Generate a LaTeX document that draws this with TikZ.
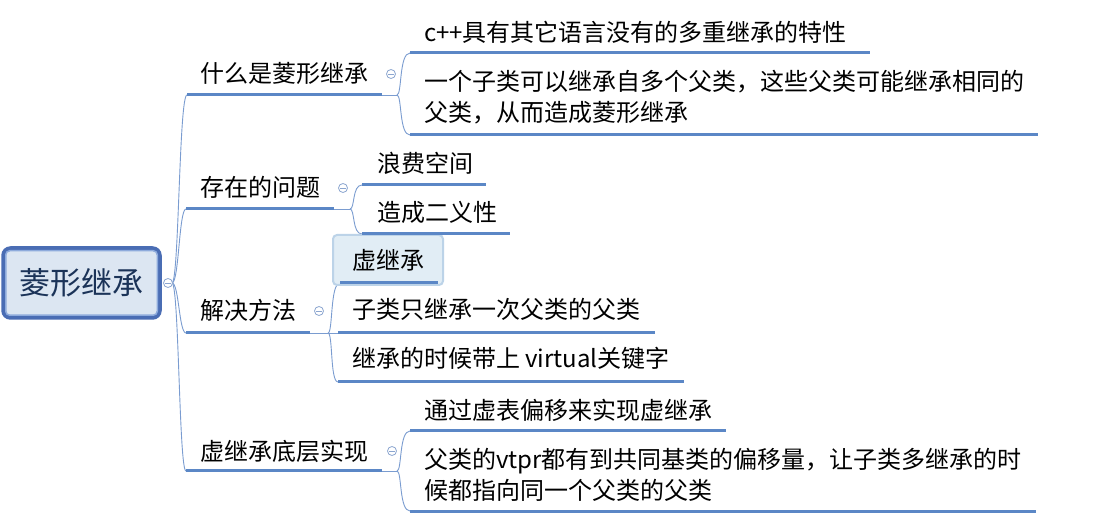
\documentclass[tikz,border=0pt]{standalone}
\usepackage{fontspec}
\setmainfont{Noto Sans CJK SC}
\definecolor{ulc}{HTML}{5B87C6}
\definecolor{cnc}{HTML}{7A9CD0}
\definecolor{clc}{HTML}{8CA6D0}
\definecolor{rootdark}{HTML}{4A6DB4}
\definecolor{rootlight}{HTML}{8EABDC}
\definecolor{rootfill}{HTML}{DCE6F2}
\definecolor{roottext}{HTML}{1B3358}
\definecolor{selfill}{HTML}{E1EDF5}
\definecolor{seldraw}{HTML}{BCD3E8}
\begin{document}
\begin{tikzpicture}[x=1pt,y=-1pt,
  ul/.style={draw=ulc,line width=3pt},
  cn/.style={draw=cnc,line width=0.9pt},
  txt/.style={anchor=base west,inner sep=0pt,outer sep=0pt,font=\fontsize{24}{31}\selectfont},
  fold/.style={circle,draw=clc,fill=white,line width=0.8pt,minimum size=9pt,inner sep=0pt,
    path picture={\draw[clc,line width=0.8pt] ([xshift=-2.6pt]path picture bounding box.center) -- ([xshift=2.6pt]path picture bounding box.center);}},
  rootbox/.style={draw=rootdark,line width=4.5pt,rounded corners=7pt,fill=rootfill,minimum width=156pt,minimum height=69pt,inner sep=0pt,text=roottext,font=\fontsize{31}{31}\selectfont},
  selbox/.style={draw=seldraw,line width=2pt,rounded corners=4pt,fill=selfill,minimum width=110pt,minimum height=50pt,inner sep=0pt,font=\fontsize{24}{31}\selectfont},
]
\fill[white] (0,0) rectangle (1101,526);
\useasboundingbox (0,0) rectangle (1101,526);

% ---- coordinates
\coordinate (rj) at (172,283);
\coordinate (t1s) at (187,95);  \coordinate (t1e) at (382,95);  \coordinate (t1j) at (397,95);
\coordinate (t2s) at (186,209); \coordinate (t2e) at (334,209); \coordinate (t2j) at (350,209);
\coordinate (t3s) at (186,333); \coordinate (t3e) at (310,333); \coordinate (t3j) at (328,333);
\coordinate (t4s) at (186,471); \coordinate (t4e) at (382,471); \coordinate (t4j) at (397,471);
\coordinate (c11s) at (410,53);  \coordinate (c11e) at (870,53);
\coordinate (c12s) at (410,135); \coordinate (c12e) at (1038,135);
\coordinate (c21s) at (362,185); \coordinate (c21e) at (486,185);
\coordinate (c22s) at (362,234); \coordinate (c22e) at (510,234);
\coordinate (c31s) at (340,283); \coordinate (c31e) at (438,283);
\coordinate (c32s) at (338,333); \coordinate (c32e) at (655,333);
\coordinate (c33s) at (338,382); \coordinate (c33e) at (684,382);
\coordinate (c41s) at (410,431); \coordinate (c41e) at (726,431);
\coordinate (c42s) at (410,511); \coordinate (c42e) at (1036,511);

% ---- root
\node[rootbox] (root) at (81.5,283) {菱形继承};
\draw[rootlight,line width=1.5pt,rounded corners=4pt] ([shift={(4.5pt,-4.5pt)}]root.north west) rectangle ([shift={(-4.5pt,4.5pt)}]root.south east);

% ---- trunk connectors
\draw[cn] (rj) .. controls (179,283) and (179,95) .. (t1s);
\draw[cn] (rj) .. controls (179,283) and (179,209) .. (t2s);
\draw[cn] (rj) .. controls (179,283) and (179,333) .. (t3s);
\draw[cn] (rj) .. controls (179,283) and (179,471) .. (t4s);

% ---- branch connectors
\draw[cn] (t1e) -- (t1j);
\draw[cn] (t1j) .. controls (402,95) and (399,53) .. (c11s);
\draw[cn] (t1j) .. controls (402,95) and (399,135) .. (c12s);
\draw[cn] (t2e) -- (t2j);
\draw[cn] (t2j) .. controls (355,209) and (352,185) .. (c21s);
\draw[cn] (t2j) .. controls (355,209) and (352,234) .. (c22s);
\draw[cn] (t3e) -- (c32s);
\draw[cn] (t3j) .. controls (333,333) and (330,283) .. (c31s);
\draw[cn] (t3j) .. controls (333,333) and (330,382) .. (c33s);
\draw[cn] (t4e) -- (t4j);
\draw[cn] (t4j) .. controls (402,471) and (399,431) .. (c41s);
\draw[cn] (t4j) .. controls (402,471) and (399,511) .. (c42s);

% ---- selected node box
\node[selbox] (c31) at (388,260) {虚继承};

% ---- underlines
\draw[ul] (t1s) -- (t1e);
\draw[ul] (t2s) -- (t2e);
\draw[ul] (t3s) -- (t3e);
\draw[ul] (t4s) -- (t4e);
\draw[ul] (c11s) -- (c11e);
\draw[ul] (c12s) -- (c12e);
\draw[ul] (c21s) -- (c21e);
\draw[ul] (c22s) -- (c22e);
\draw[ul] (c31s) -- (c31e);
\draw[ul] (c32s) -- (c32e);
\draw[ul] (c33s) -- (c33e);
\draw[ul] (c41s) -- (c41e);
\draw[ul] (c42s) -- (c42e);

% ---- fold markers
\node[fold] (rf) at (168,283) {};
\node[fold] (t1f) at (391,74) {};
\node[fold] (t2f) at (343,188) {};
\node[fold] (t3f) at (319,311) {};
\node[fold] (t4f) at (392,451) {};

% ---- texts
\node[txt] (t1) at (200,83) {什么是菱形继承};
\node[txt] (t2) at (200,197) {存在的问题};
\node[txt] (t3) at (200,320) {解决方法};
\node[txt] (t4) at (200,461) {虚继承底层实现};
\node[txt] (c11) at (424,42) {c++具有其它语言没有的多重继承的特性};
\node[txt] (c12) at (424,91) {\vtop{\hbox{一个子类可以继承自多个父类，这些父类可能继承相同的}\hbox{父类，从而造成菱形继承}}};
\node[txt] (c21) at (377,173) {浪费空间};
\node[txt] (c22) at (377,222) {造成二义性};
\node[txt] (c32) at (352,319) {子类只继承一次父类的父类};
\node[txt] (c33) at (352,368) {继承的时候带上 virtual关键字};
\node[txt] (c41) at (424,420) {通过虚表偏移来实现虚继承};
\node[txt] (c42) at (424,469) {\vtop{\hbox{父类的vtpr都有到共同基类的偏移量，让子类多继承的时}\hbox{候都指向同一个父类的父类}}};
\end{tikzpicture}
\end{document}
